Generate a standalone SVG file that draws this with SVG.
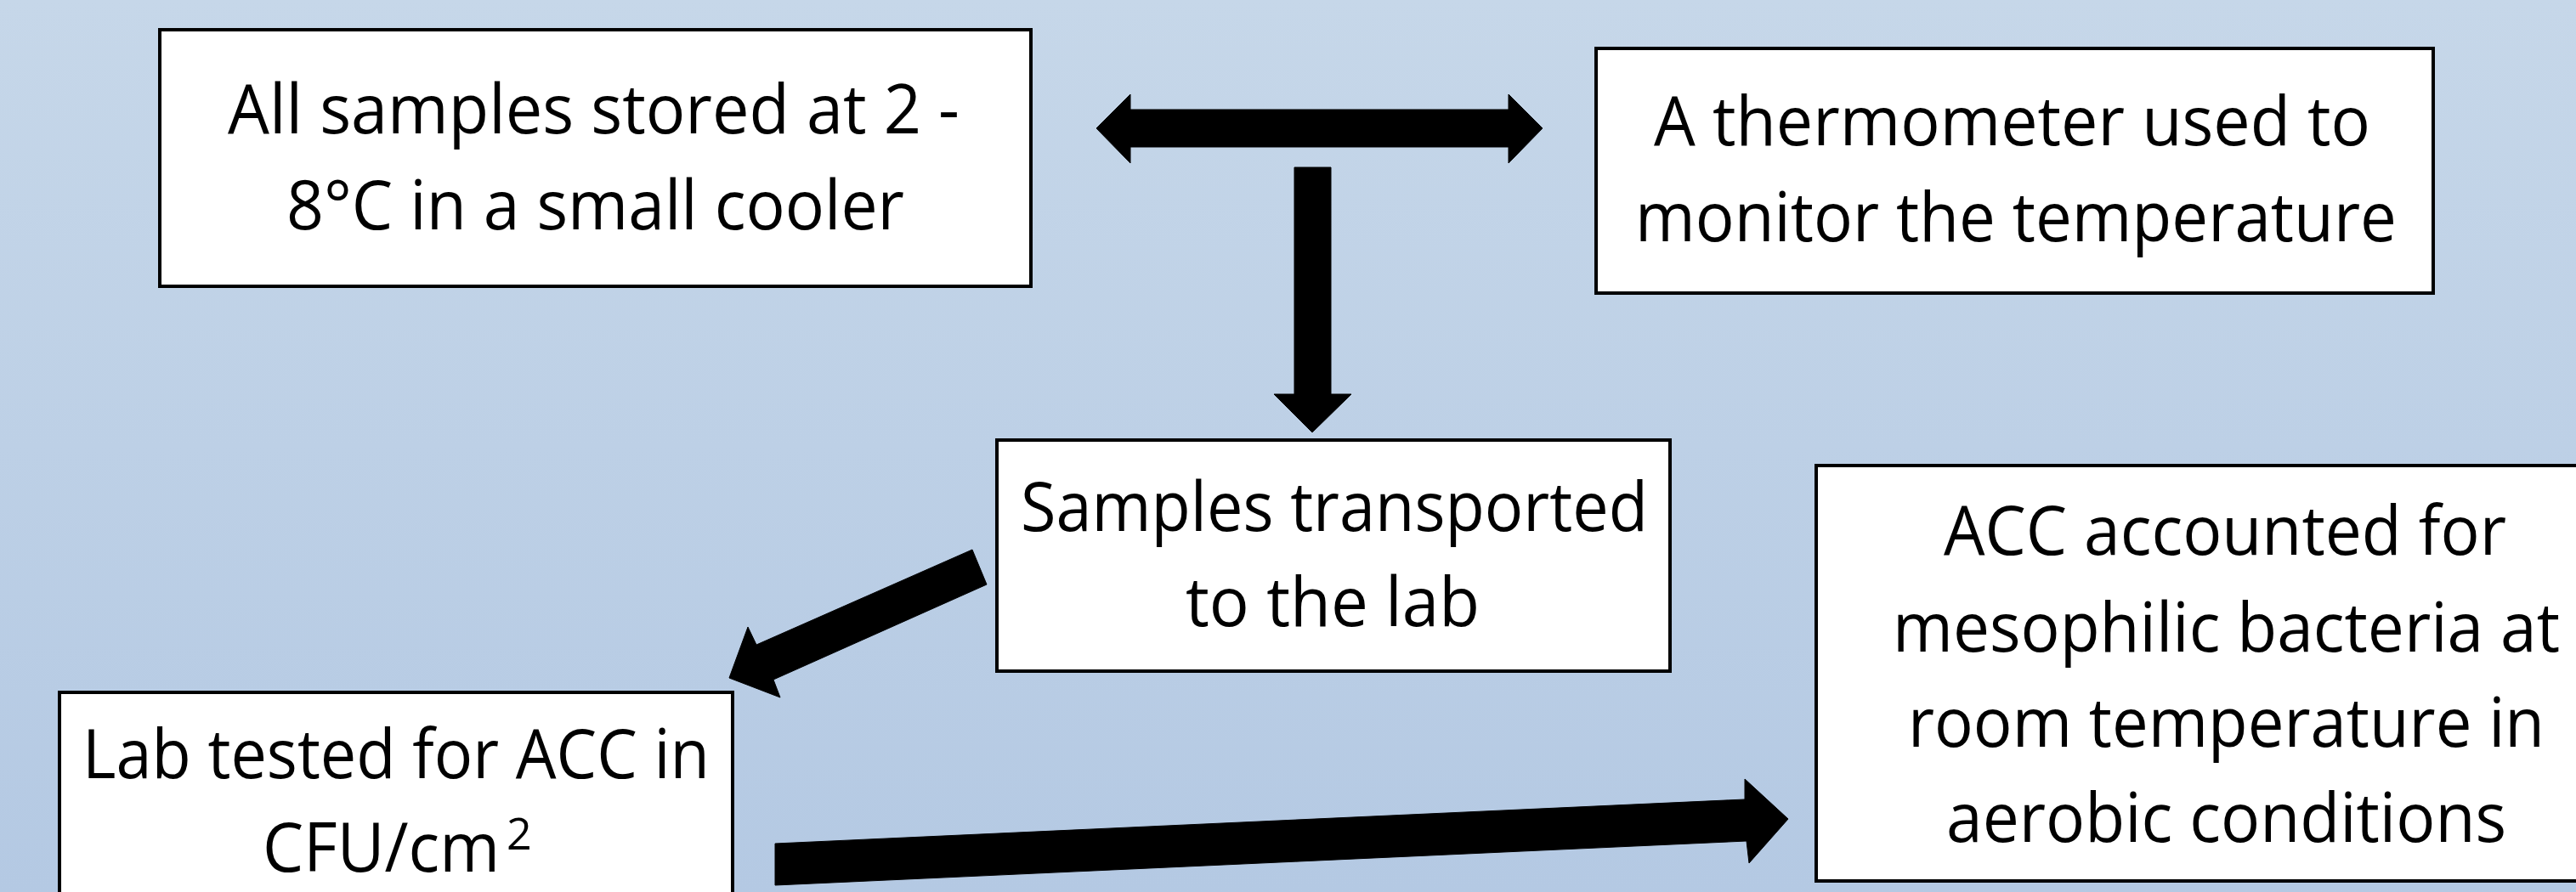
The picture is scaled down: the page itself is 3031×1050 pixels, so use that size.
<svg xmlns="http://www.w3.org/2000/svg" width="3031" height="1050" viewBox="0 0 3031 1050">
<defs>
<linearGradient id="bg" x1="0" y1="0" x2="0" y2="1">
<stop offset="0" stop-color="#c6d7e9"/>
<stop offset="1" stop-color="#b4c9e3"/>
</linearGradient>
</defs>
<style>
.box{fill:#ffffff;stroke:#000000;stroke-width:4}
.t{font-family:"Open Sans","Liberation Sans",sans-serif;font-size:81px;fill:#000000}
.arrow{fill:#000000;stroke:#000000;stroke-width:1;stroke-linejoin:round}
</style>
<rect x="0" y="0" width="3031" height="1050" fill="url(#bg)"/>

<g id="connectors">
<polygon class="arrow" points="1290,151 1330,111 1330,129 1775,129 1775,111 1815,151 1775,192 1775,173 1330,173 1330,192"/>
<polygon class="arrow" points="1523,197 1566,197 1566,464 1590,464 1544,509 1499,464 1523,464"/>
<polygon class="arrow" points="1144,647 890,759 880,738 858,798 918,821 910,800 1161,688"/>
<polygon class="arrow" points="912,993 2053,941 2053,917 2104,964 2058,1016 2055,990 912,1042"/>
</g>

<g id="node-stored">
<rect class="box" x="188" y="35" width="1025" height="302"/>
<text class="t" x="268" y="157" textLength="861" lengthAdjust="spacingAndGlyphs">All samples stored at 2 -</text>
<text class="t" x="337" y="270" textLength="727" lengthAdjust="spacingAndGlyphs">8°C in a small cooler</text>
</g>

<g id="node-thermometer">
<rect class="box" x="1878" y="57" width="985" height="288"/>
<text class="t" x="1946" y="171" textLength="843" lengthAdjust="spacingAndGlyphs">A thermometer used to</text>
<text class="t" x="1924" y="284" textLength="896" lengthAdjust="spacingAndGlyphs">monitor the temperature</text>
</g>

<g id="node-transported">
<rect class="box" x="1173" y="518" width="792" height="272"/>
<text class="t" x="1201" y="625" textLength="738" lengthAdjust="spacingAndGlyphs">Samples transported</text>
<text class="t" x="1395" y="737" textLength="346" lengthAdjust="spacingAndGlyphs">to the lab</text>
</g>

<g id="node-acc">
<rect class="box" x="2137" y="548" width="1000" height="489"/>
<text class="t" x="2287" y="653" textLength="662" lengthAdjust="spacingAndGlyphs">ACC accounted for</text>
<text class="t" x="2227" y="767" textLength="785" lengthAdjust="spacingAndGlyphs">mesophilic bacteria at</text>
<text class="t" x="2245" y="879" textLength="749" lengthAdjust="spacingAndGlyphs">room temperature in</text>
<text class="t" x="2290" y="991" textLength="659" lengthAdjust="spacingAndGlyphs">aerobic conditions</text>
</g>

<g id="node-lab">
<rect class="box" x="70" y="815" width="792" height="300"/>
<text class="t" x="97" y="916" textLength="738" lengthAdjust="spacingAndGlyphs">Lab tested for ACC in</text>
<text class="t" x="309" y="1026"><tspan textLength="279" lengthAdjust="spacingAndGlyphs">CFU/cm</tspan><tspan x="596" y="1000" font-size="52">2</tspan></text>
</g>
</svg>
